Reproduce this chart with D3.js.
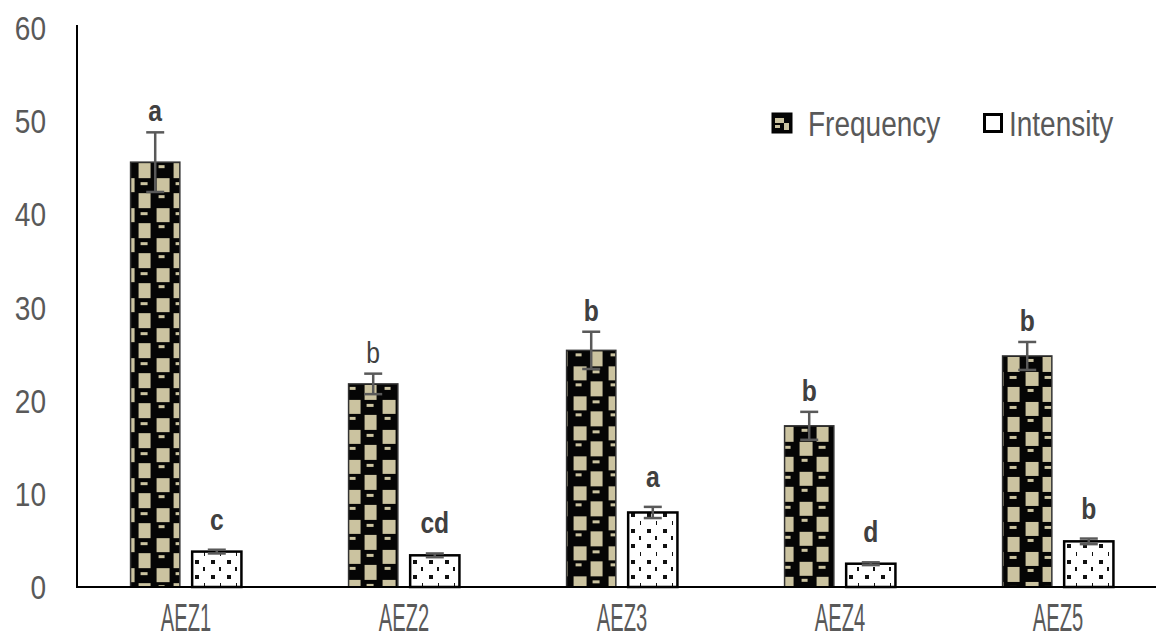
<!DOCTYPE html>
<html><head><meta charset="utf-8">
<script src="https://cdn.jsdelivr.net/npm/d3@7"></script>
<style>
html,body{margin:0;padding:0;background:#fff;}
svg{display:block;}
</style></head>
<body>
<svg id="chart" width="1156" height="643"></svg>
<script>
const categories = ["AEZ1","AEZ2","AEZ3","AEZ4","AEZ5"];
const seriesNames = ["Frequency","Intensity"];
const frequency = [45.6, 21.8, 25.4, 17.3, 24.8];
const frequencyErr = [3.2, 1.1, 2.0, 1.5, 1.5];
const intensity = [3.8, 3.4, 8.0, 2.5, 4.9];
const intensityErr = [0.2, 0.2, 0.6, 0.15, 0.3];
const frequencyLetters = ["a","b","b","b","b"];
const intensityLetters = ["c","cd","a","d","b"];
const frequencyLetterBold = [true,false,true,true,true];
const intensityLetterBold = [true,true,true,true,true];
const yTicks = [0,10,20,30,40,50,60];

const svg = d3.select("#chart");
const sans = "'Liberation Sans',Arial,sans-serif";

const x0 = d3.scaleBand().domain(categories).range([77, 1167]).paddingInner(0).paddingOuter(0);
const x1 = d3.scaleBand().domain(seriesNames).range([0, x0.bandwidth()]).paddingInner(0.2).paddingOuter(0.87);
const y = d3.scaleLinear().domain([0, 60]).range([587, 28]);

const defs = svg.append("defs");
const tan = "#cbc3a0";
categories.forEach((c, i) => {
  const p = defs.append("pattern").attr("id", "freq" + i)
    .attr("patternUnits", "userSpaceOnUse").attr("width", 35).attr("height", 30)
    .attr("x", x0(c) + x1("Frequency")).attr("y", y(frequency[i]));
  p.append("rect").attr("width", 35).attr("height", 30).attr("fill", "#050505");
  p.append("rect").attr("x", 1).attr("y", 1).attr("width", 12).attr("height", 15).attr("fill", tan);
  p.append("rect").attr("x", 19).attr("y", 16).attr("width", 13).attr("height", 14).attr("fill", tan);
  p.append("rect").attr("x", 21).attr("y", 3).attr("width", 6).attr("height", 3).attr("fill", tan);
  p.append("rect").attr("x", 3).attr("y", 20).attr("width", 7).attr("height", 3).attr("fill", tan);
});
const dp = defs.append("pattern").attr("id", "dots")
  .attr("patternUnits", "userSpaceOnUse").attr("width", 16).attr("height", 31);
dp.append("rect").attr("width", 16).attr("height", 31).attr("fill", "#fff");
[[0,0],[8,7],[0,15],[9,23]].forEach(([dx,dy]) => {
  dp.append("rect").attr("x", dx + 6).attr("y", dy + 2).attr("width", 4).attr("height", 4).attr("fill", "#111");
});

const lp = defs.append("pattern").attr("id", "legfreq")
  .attr("patternUnits", "userSpaceOnUse").attr("width", 20).attr("height", 20)
  .attr("x", 772).attr("y", 113);
lp.append("rect").attr("width", 20).attr("height", 20).attr("fill", "#050505");
lp.append("rect").attr("x", 3).attr("y", 5).attr("width", 9).attr("height", 5).attr("fill", tan);
lp.append("rect").attr("x", 12).attr("y", 10).attr("width", 5).attr("height", 7).attr("fill", tan);
lp.append("rect").attr("x", 3).attr("y", 12).attr("width", 5).attr("height", 3).attr("fill", tan);

svg.append("g").selectAll("text").data(yTicks).join("text")
  .attr("transform", d => `translate(46,${y(d) + 12}) scale(0.85,1)`)
  .attr("text-anchor", "end")
  .attr("font-family", sans).attr("font-size", 33).attr("fill", "#595959")
  .text(d => d);

const groups = svg.append("g").selectAll("g").data(categories).join("g")
  .attr("transform", d => `translate(${x0(d)},0)`);

groups.append("rect")
  .attr("x", x1("Frequency")).attr("width", x1.bandwidth())
  .attr("y", (d, i) => y(frequency[i])).attr("height", (d, i) => y(0) - y(frequency[i]))
  .attr("fill", (d, i) => `url(#freq${i})`).attr("stroke", "#333").attr("stroke-width", 1.5);

groups.append("rect")
  .attr("x", x1("Intensity")).attr("width", x1.bandwidth())
  .attr("y", (d, i) => y(intensity[i])).attr("height", (d, i) => y(0) - y(intensity[i]))
  .attr("fill", "url(#dots)").attr("stroke", "#000").attr("stroke-width", 2.5);

function errBars(vals, errs, key) {
  const cx = x1(key) + x1.bandwidth() / 2;
  const g = groups.append("g").attr("stroke", "#595959").attr("stroke-width", 2.5);
  g.append("line").attr("x1", cx).attr("x2", cx)
    .attr("y1", (d, i) => y(vals[i] - errs[i])).attr("y2", (d, i) => y(vals[i] + errs[i]));
  g.append("line").attr("x1", cx - 9).attr("x2", cx + 9)
    .attr("y1", (d, i) => y(vals[i] + errs[i])).attr("y2", (d, i) => y(vals[i] + errs[i]));
  g.append("line").attr("x1", cx - 9).attr("x2", cx + 9)
    .attr("y1", (d, i) => y(vals[i] - errs[i])).attr("y2", (d, i) => y(vals[i] - errs[i]));
}
errBars(frequency, frequencyErr, "Frequency");
errBars(intensity, intensityErr, "Intensity");

function letters(vals, errs, labs, bold, key, off) {
  groups.append("text")
    .attr("transform", (d, i) => `translate(${x1(key) + x1.bandwidth() / 2},${y(vals[i] + errs[i]) - off}) scale(0.85,1)`)
    .attr("text-anchor", "middle")
    .attr("font-family", sans).attr("font-size", 29)
    .attr("font-weight", (d, i) => bold[i] ? "bold" : "normal")
    .attr("fill", "#404040")
    .text((d, i) => labs[i]);
}
letters(frequency, frequencyErr, frequencyLetters, frequencyLetterBold, "Frequency", 11);
letters(intensity, intensityErr, intensityLetters, intensityLetterBold, "Intensity", 20);

svg.append("line").attr("x1", 77).attr("x2", 77).attr("y1", 25).attr("y2", y(0))
  .attr("stroke", "#000").attr("stroke-width", 2);
svg.append("line").attr("x1", 76).attr("x2", 1156).attr("y1", y(0)).attr("y2", y(0))
  .attr("stroke", "#000").attr("stroke-width", 2);

svg.append("g").selectAll("text").data(categories).join("text")
  .attr("transform", d => `translate(${x0(d) + x0.bandwidth() / 2},631) scale(0.53,1)`)
  .attr("text-anchor", "middle")
  .attr("font-family", sans).attr("font-size", 38).attr("fill", "#595959")
  .text(d => d);

const leg = svg.append("g");
leg.append("rect").attr("x", 772).attr("y", 113).attr("width", 20).attr("height", 20)
  .attr("fill", "url(#legfreq)").attr("stroke", "#000").attr("stroke-width", 1);
leg.append("text").attr("transform", "translate(808,136) scale(0.8,1)")
  .attr("font-family", sans).attr("font-size", 35).attr("fill", "#595959").text(seriesNames[0]);
leg.append("rect").attr("x", 984.5).attr("y", 114.5).attr("width", 17).attr("height", 17)
  .attr("fill", "#fff").attr("stroke", "#000").attr("stroke-width", 3);
leg.append("text").attr("transform", "translate(1009,136) scale(0.8,1)")
  .attr("font-family", sans).attr("font-size", 35).attr("fill", "#595959").text(seriesNames[1]);
</script>
</body></html>
